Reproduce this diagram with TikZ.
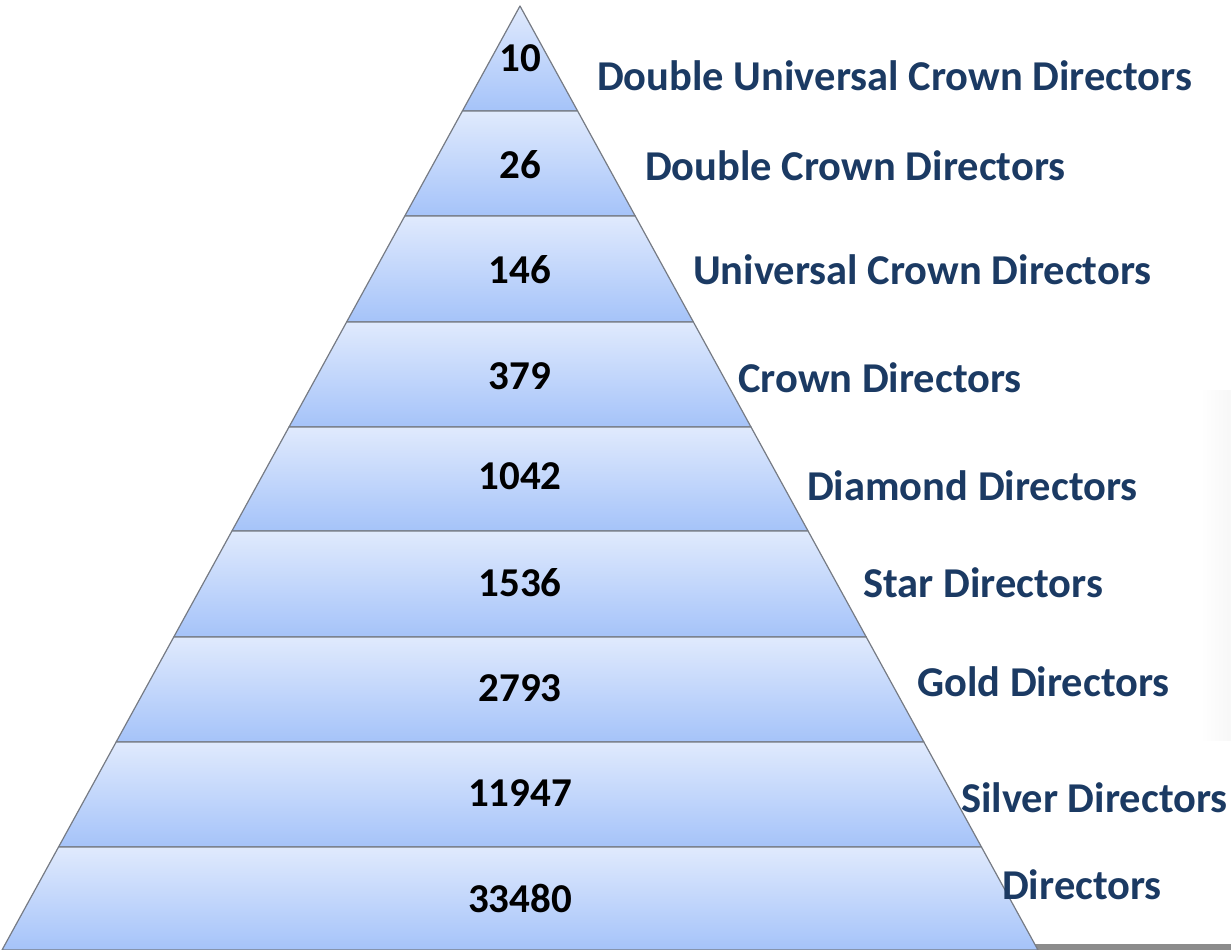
\documentclass[tikz,border=0pt]{standalone}
\usepackage{fontspec}
\setmainfont{Carlito}
\definecolor{navy}{HTML}{1B3A63}
\definecolor{bandtop}{HTML}{E0EAFD}
\definecolor{bandbot}{HTML}{A5C3F9}
\definecolor{edgegray}{HTML}{767B84}
\definecolor{bargray}{HTML}{8C8C8C}
\tikzset{
  band/.style={top color=bandtop,bottom color=bandbot,draw=edgegray,line width=1.2pt,line join=round},
  num/.style={font=\bfseries\fontsize{41}{48}\selectfont,anchor=base,text=black,inner sep=0pt},
  lab/.style={font=\bfseries\fontsize{42.5}{50}\selectfont,anchor=base west,text=navy,inner sep=0pt}
}
\begin{document}
\begin{tikzpicture}[x=1pt,y=-1pt]
\useasboundingbox (0,0) rectangle (1231,950);
% faint shadow at right
\shade[left color=white,right color=black!3] (1200,390) rectangle (1231,740);
% bottom bar
\fill[bargray] (1030,944) rectangle (1231,950);
% bands
\foreach \a/\b in {6/111,111/216,216/322,322/427,427/531,531/637,637/742,742/847,847/950}{
  \path[band] ({520-0.5487*(\a-6)},\a) -- ({520+0.5487*(\a-6)},\a) -- ({520+0.5487*(\b-6)},\b) -- ({520-0.5487*(\b-6)},\b) -- cycle;
}
% numbers
\node[num] (n1) at (520,71) {10};
\node[num] (n2) at (520,178) {26};
\node[num] (n3) at (520,283) {146};
\node[num] (n4) at (520,389) {379};
\node[num] (n5) at (520,489) {1042};
\node[num] (n6) at (520,596) {1536};
\node[num] (n7) at (520,701) {2793};
\node[num] (n8) at (520,806) {11947};
\node[num] (n9) at (520,912) {33480};
% labels
\node[lab] (l1) at (597,90) {Double Universal Crown Directors};
\node[lab] (l2) at (645,180) {Double Crown Directors};
\node[lab] (l3) at (693,284) {Universal Crown Directors};
\node[lab] (l4) at (738,392) {Crown Directors};
\node[lab] (l5) at (807,500) {Diamond Directors};
\node[lab] (l6) at (863,597) {Star Directors};
\node[lab] (l7) at (917,696) {Gold Directors};
\node[lab] (l8) at (961,812) {Silver Directors};
\node[lab] (l9) at (1002,899) {Directors};
\end{tikzpicture}
\end{document}
